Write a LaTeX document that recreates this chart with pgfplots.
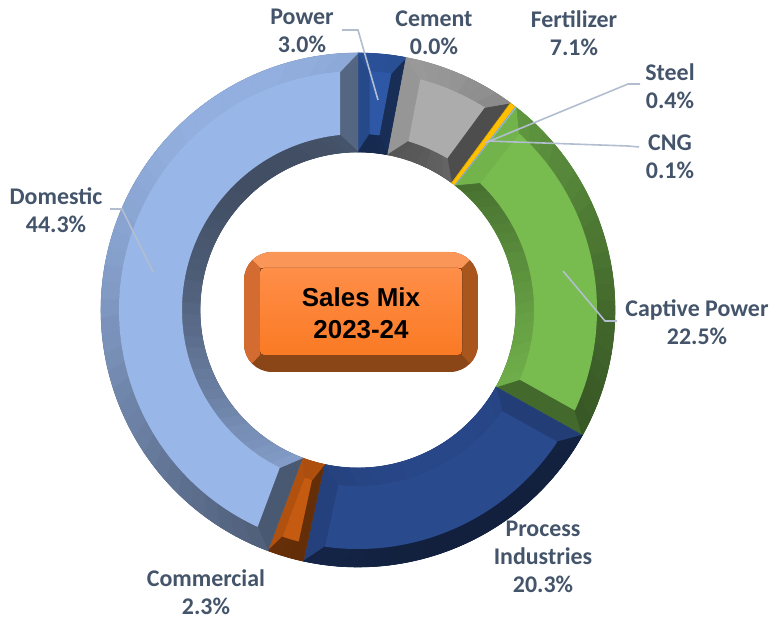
\documentclass[border=0pt]{standalone}
\usepackage{fontspec}
\setmainfont{Carlito}
\newfontfamily\arialfont{Liberation Sans}
\usepackage{pgfplots}
\usepackage{pgfplotstable}
\pgfplotsset{compat=1.18}

\definecolor{cPower}{RGB}{46,88,165}
\definecolor{cCement}{RGB}{120,120,120}
\definecolor{cFert}{RGB}{172,172,172}
\definecolor{cSteel}{RGB}{255,192,0}
\definecolor{cCNG}{RGB}{157,195,230}
\definecolor{cCaptive}{RGB}{120,188,80}
\definecolor{cProcess}{RGB}{42,74,142}
\definecolor{cComm}{RGB}{197,90,17}
\definecolor{cDomestic}{RGB}{152,182,232}
\definecolor{lbl}{RGB}{68,84,106}
\definecolor{leader}{RGB}{178,190,208}
\definecolor{boxbot}{RGB}{138,70,22}
\definecolor{boxright}{RGB}{168,86,30}
\definecolor{boxleft}{RGB}{212,108,50}
\definecolor{boxtop}{RGB}{250,150,88}

% sales mix 2023-24, share in %
\pgfplotstableread[col sep=comma]{
sector,value,color
Power,3.0,cPower
Cement,0.0,cCement
Fertilizer,7.1,cFert
Steel,0.4,cSteel
CNG,0.1,cCNG
Captive Power,22.5,cCaptive
Process Industries,20.3,cProcess
Commercial,2.3,cComm
Domestic,44.3,cDomestic
}\salesmix

% ring geometry in axis units (1 unit = 0.5bp)
\def\cx{358}\def\cy{308}
\def\Ro{257}\def\Ri{158}\def\W{18}
\def\ubp{0.5}
\pgfmathsetmacro\RoBP{\Ro*\ubp}
\pgfmathsetmacro\RiBP{\Ri*\ubp}
\pgfmathsetmacro\RmoBP{(\Ro-\W)*\ubp}
\pgfmathsetmacro\RmiBP{(\Ri+\W)*\ubp}
\gdef\curang{90}

\newcommand\pnt[3]{%
  \pgfmathsetmacro\tmpx{\cx+(#2)*cos(#3)}%
  \pgfmathsetmacro\tmpy{\cy+(#2)*sin(#3)}%
  \coordinate (#1) at (axis cs:\tmpx,\tmpy);}

% bevel shade from the face normal angle
\newcommand\setbev[1]{%
  \pgfmathsetmacro\dk{0.30-0.27*cos((#1)-120)}%
  \pgfmathtruncatemacro\pc{100-100*\dk}%
  \colorlet{bev}{segc!\pc!black}}

\newcommand\flatseg{%
  \pnt{a}{\Ro}{\aA}\pnt{b}{\Ri}{\aB}%
  \filldraw[fill=segc,draw=segc!85!black,line width=0.3bp]
    (a) arc[start angle=\aA,end angle=\aB,radius=\RoBP bp] --
    (b) arc[start angle=\aB,end angle=\aA,radius=\RiBP bp] -- cycle;}

\newcommand\bevelseg{%
  \pgfmathsetmacro\sw{min(\W,0.35*rad(\spn)*(\Ri+\W))}%
  \pgfmathsetmacro\dO{deg(\sw/(\Ro-\W))}%
  \pgfmathsetmacro\dI{deg(\sw/(\Ri+\W))}%
  \pgfmathsetmacro\aM{(\aA+\aB)/2}%
  \setbev{\aA+90}%
  \pnt{p1}{\Ro}{\aA}\pnt{p2}{\Ri}{\aM}%
  \filldraw[fill=bev,draw=bev,line width=0.2bp]
    (p1) arc[start angle=\aA,end angle=\aM,radius=\RoBP bp] --
    (p2) arc[start angle=\aM,end angle=\aA,radius=\RiBP bp] -- cycle;
  \setbev{\aB-90}%
  \pnt{p1}{\Ro}{\aM}\pnt{p2}{\Ri}{\aB}%
  \filldraw[fill=bev,draw=bev,line width=0.2bp]
    (p1) arc[start angle=\aM,end angle=\aB,radius=\RoBP bp] --
    (p2) arc[start angle=\aB,end angle=\aM,radius=\RiBP bp] -- cycle;
  \pgfmathtruncatemacro\ns{max(1,ceil(\spn/4))}%
  \pgfmathsetmacro\scO{(\spn-2*\dO)/\spn}%
  \pgfmathsetmacro\scI{(\spn-2*\dI)/\spn}%
  \foreach \kk in {1,...,\ns}{%
    \pgfmathsetmacro\tA{\aA-(\kk-1)*\spn/\ns}%
    \pgfmathsetmacro\tB{\aA-\kk*\spn/\ns}%
    \pgfmathsetmacro\mA{\aB+\dO+(\tA-\aB)*\scO}%
    \pgfmathsetmacro\mB{\aB+\dO+(\tB-\aB)*\scO}%
    \setbev{(\tA+\tB)/2}%
    \pnt{q1}{\Ro}{\tA}\pnt{q2}{\Ro-\W}{\mB}%
    \filldraw[fill=bev,draw=bev,line width=0.3bp]
      (q1) arc[start angle=\tA,end angle=\tB,radius=\RoBP bp] --
      (q2) arc[start angle=\mB,end angle=\mA,radius=\RmoBP bp] -- cycle;
    \pgfmathsetmacro\nA{\aB+\dI+(\tA-\aB)*\scI}%
    \pgfmathsetmacro\nB{\aB+\dI+(\tB-\aB)*\scI}%
    \setbev{(\tA+\tB)/2+180}%
    \pnt{q1}{\Ri}{\tA}\pnt{q2}{\Ri+\W}{\nB}%
    \filldraw[fill=bev,draw=bev,line width=0.3bp]
      (q1) arc[start angle=\tA,end angle=\tB,radius=\RiBP bp] --
      (q2) arc[start angle=\nB,end angle=\nA,radius=\RmiBP bp] -- cycle;
  }%
  \pgfmathsetmacro\fa{\aA-\dO}\pgfmathsetmacro\fb{\aB+\dO}%
  \pgfmathsetmacro\fc{\aB+\dI}\pgfmathsetmacro\fd{\aA-\dI}%
  \pnt{f1}{\Ro-\W}{\fa}\pnt{f2}{\Ri+\W}{\fc}%
  \fill[segc]
    (f1) arc[start angle=\fa,end angle=\fb,radius=\RmoBP bp] --
    (f2) arc[start angle=\fc,end angle=\fd,radius=\RmiBP bp] -- cycle;}

\newcommand\drawseg[1]{%
  \pgfplotstablegetelem{#1}{value}\of\salesmix\let\val\pgfplotsretval
  \pgfplotstablegetelem{#1}{color}\of\salesmix\edef\tmpc{\pgfplotsretval}%
  \colorlet{segc}{\tmpc}%
  \pgfmathsetmacro\aA{\curang}%
  \pgfmathsetmacro\spn{3.6*\val}%
  \pgfmathsetmacro\aB{\aA-\spn}%
  \xdef\curang{\aB}%
  \pgfmathtruncatemacro\isbig{\spn>3}%
  \pgfmathtruncatemacro\isany{\spn>0}%
  \ifnum\isbig=1 \bevelseg\else\ifnum\isany=1 \flatseg\fi\fi}

\begin{document}
\begin{tikzpicture}
\begin{axis}[
  width=385.5bp, height=309bp, scale only axis,
  xmin=0, xmax=771, ymin=0, ymax=618,
  hide axis, clip=false,
]
\pgfplotsinvokeforeach{0,...,8}{\pgfplotsextra{\drawseg{#1}}}

% centre box
\pgfplotsextra{
  \begin{scope}
    \clip[rounded corners=14bp] (axis cs:244,246) rectangle (axis cs:478,366);
    \fill[boxbot] (axis cs:244,246) rectangle (axis cs:478,366);
    \fill[boxtop] (axis cs:244,366) -- (axis cs:478,366) -- (axis cs:462,350) -- (axis cs:260,350) -- cycle;
    \fill[boxleft] (axis cs:244,366) -- (axis cs:260,350) -- (axis cs:260,263) -- (axis cs:244,246) -- cycle;
    \fill[boxright] (axis cs:478,366) -- (axis cs:478,246) -- (axis cs:462,263) -- (axis cs:462,350) -- cycle;
  \end{scope}
  \fill[rounded corners=2bp, top color={rgb,255:red,255;green,142;blue,72}, bottom color={rgb,255:red,250;green,122;blue,36}]
    (axis cs:260,263) rectangle (axis cs:462,350);
}
\node[font=\arialfont\bfseries\fontsize{13}{16}\selectfont, align=center]
  at (axis cs:361,305) {Sales Mix\\2023-24};

% leader lines
\draw[leader, line width=0.8bp] (axis cs:342,588) -- (axis cs:358,588) -- (axis cs:378,518);
\draw[leader, line width=0.8bp] (axis cs:640,534) -- (axis cs:628,534) -- (axis cs:485,475);
\draw[leader, line width=0.8bp] (axis cs:639,471) -- (axis cs:628,472) -- (axis cs:487,477);
\draw[leader, line width=0.8bp] (axis cs:617,297) -- (axis cs:605,297) -- (axis cs:563,347);
\draw[leader, line width=0.8bp] (axis cs:110,409) -- (axis cs:122,409) -- (axis cs:153,346);

% labels
\tikzset{lab/.style={font=\bfseries\fontsize{12}{14}\selectfont, text=lbl, align=center, inner sep=0pt}}
\node[lab] at (axis cs:302,587) {Power\\3.0\%};
\node[lab] at (axis cs:434,585) {Cement\\0.0\%};
\node[lab] at (axis cs:574,585) {Fertilizer\\7.1\%};
\node[lab] at (axis cs:670,532) {Steel\\0.4\%};
\node[lab] at (axis cs:670,461) {CNG\\0.1\%};
\node[lab] at (axis cs:697,296) {Captive Power\\22.5\%};
\node[lab] at (axis cs:543,61) {Process\\Industries\\20.3\%};
\node[lab] at (axis cs:206,26) {Commercial\\2.3\%};
\node[lab] at (axis cs:56,408) {Domestic\\44.3\%};
\end{axis}
\pgfresetboundingbox
\path (current axis.south west) rectangle (current axis.north east);
\end{tikzpicture}
\end{document}
